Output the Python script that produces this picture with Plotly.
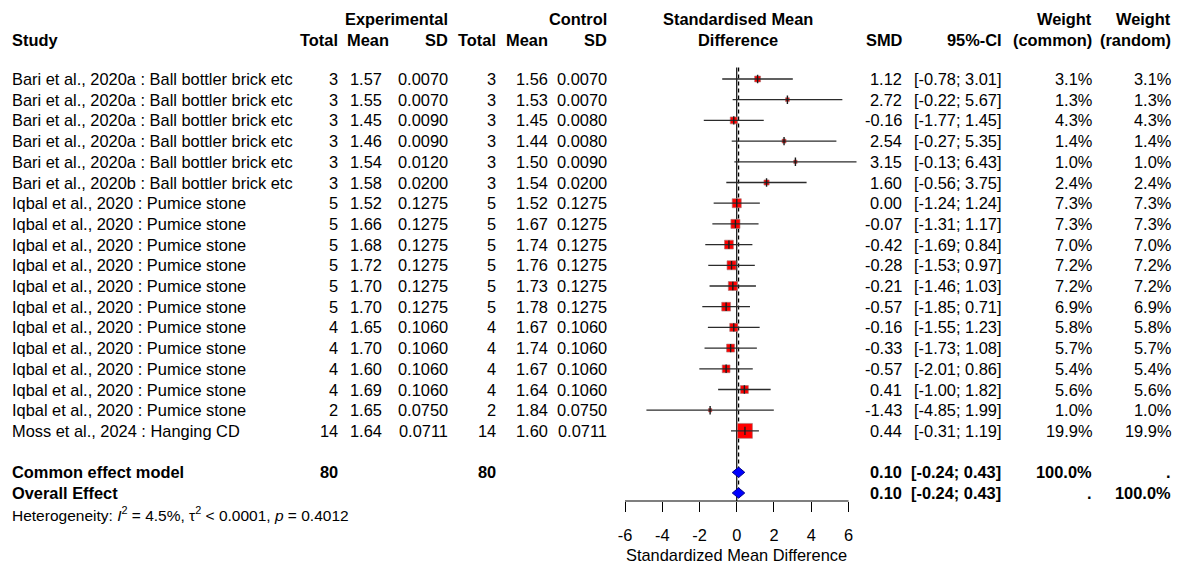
import plotly.graph_objects as go

# ---- data -------------------------------------------------------------
studies = (["Bari et al., 2020a : Ball bottler brick etc"] * 5
           + ["Bari et al., 2020b : Ball bottler brick etc"]
           + ["Iqbal et al., 2020 : Pumice stone"] * 11
           + ["Moss et al., 2024 : Hanging CD"])
exp_n = [3, 3, 3, 3, 3, 3, 5, 5, 5, 5, 5, 5, 4, 4, 4, 4, 2, 14]
exp_mean = [1.57, 1.55, 1.45, 1.46, 1.54, 1.58, 1.52, 1.66, 1.68, 1.72, 1.70, 1.70,
            1.65, 1.70, 1.60, 1.69, 1.65, 1.64]
exp_sd = [0.0070, 0.0070, 0.0090, 0.0090, 0.0120, 0.0200, 0.1275, 0.1275, 0.1275,
          0.1275, 0.1275, 0.1275, 0.1060, 0.1060, 0.1060, 0.1060, 0.0750, 0.0711]
ctrl_n = [3, 3, 3, 3, 3, 3, 5, 5, 5, 5, 5, 5, 4, 4, 4, 4, 2, 14]
ctrl_mean = [1.56, 1.53, 1.45, 1.44, 1.50, 1.54, 1.52, 1.67, 1.74, 1.76, 1.73, 1.78,
             1.67, 1.74, 1.67, 1.64, 1.84, 1.60]
ctrl_sd = [0.0070, 0.0070, 0.0080, 0.0080, 0.0090, 0.0200, 0.1275, 0.1275, 0.1275,
           0.1275, 0.1275, 0.1275, 0.1060, 0.1060, 0.1060, 0.1060, 0.0750, 0.0711]
smd = [1.12, 2.72, -0.16, 2.54, 3.15, 1.60, 0.00, -0.07, -0.42, -0.28, -0.21, -0.57,
       -0.16, -0.33, -0.57, 0.41, -1.43, 0.44]
ci_lo = [-0.78, -0.22, -1.77, -0.27, -0.13, -0.56, -1.24, -1.31, -1.69, -1.53, -1.46,
         -1.85, -1.55, -1.73, -2.01, -1.00, -4.85, -0.31]
ci_hi = [3.01, 5.67, 1.45, 5.35, 6.43, 3.75, 1.24, 1.17, 0.84, 0.97, 1.03, 0.71, 1.23,
         1.08, 0.86, 1.82, 1.99, 1.19]
w_common = [3.1, 1.3, 4.3, 1.4, 1.0, 2.4, 7.3, 7.3, 7.0, 7.2, 7.2, 6.9, 5.8, 5.7, 5.4,
            5.6, 1.0, 19.9]
w_random = [3.1, 1.3, 4.3, 1.4, 1.0, 2.4, 7.3, 7.3, 7.0, 7.2, 7.2, 6.9, 5.8, 5.7, 5.4,
            5.6, 1.0, 19.9]

total_exp = 80
total_ctrl = 80
w_common_total = 100.0
w_random_total = 100.0
pooled_est = 0.10
pooled_lo = -0.24
pooled_hi = 0.43
heterogeneity = "Heterogeneity: <i>I</i><sup>2</sup> = 4.5%, \u03c4<sup>2</sup> &lt; 0.0001, <i>p</i> = 0.4012"

x_ticks = [-6, -4, -2, 0, 2, 4, 6]

# ---- layout geometry --------------------------------------------------
W, H = 1181, 567
FONT = "Liberation Sans, Arial, sans-serif"
FS = 16.4
ROW0_PX, ROW_H = 79.0, 20.7          # pixel centre of first study row, row pitch
y_top = 1 - ROW0_PX / ROW_H            # row value at top edge
y_bot = 1 + (H - ROW0_PX) / ROW_H      # row value at bottom edge

X_LEFT_PX, X_RIGHT_PX = 625.0, 848.5   # pixels of -6 and 6
ppu = (X_RIGHT_PX - X_LEFT_PX) / 12.0
x0_px = X_LEFT_PX + 6 * ppu
xr = [-7.0, 7.0]
dom = [(x0_px + xr[0] * ppu) / W, (x0_px + xr[1] * ppu) / W]

AXIS_PX = 501.0
axis_row = 1 + (AXIS_PX - ROW0_PX) / ROW_H

rows = list(range(1, len(studies) + 1))
row_common = len(studies) + 2
row_overall = len(studies) + 3
row_het = len(studies) + 4
row_head1 = 1 + (19 - ROW0_PX) / ROW_H
row_head2 = 1 + (40 - ROW0_PX) / ROW_H

fig = go.Figure()

# reference line (no effect) and pooled estimate line
fig.add_trace(go.Scatter(x=[0, 0], y=[0.45, axis_row], mode="lines",
                         line=dict(color="black", width=1.2), hoverinfo="skip"))
fig.add_trace(go.Scatter(x=[pooled_est, pooled_est], y=[0.45, axis_row - 0.2], mode="lines",
                         line=dict(color="black", width=1.2, dash="4px,3px"), hoverinfo="skip"))

# weighted squares
sizes = [3.35 * (w ** 0.5) for w in w_common]
fig.add_trace(go.Scatter(x=smd, y=rows, mode="markers",
                         marker=dict(symbol="square", size=sizes, color="#ff0000", opacity=1,
                                     line=dict(color="rgba(170,120,120,0.8)", width=0.8)),
                         hoverinfo="skip"))

# confidence intervals
cx, cy = [], []
for lo, hi, r in zip(ci_lo, ci_hi, rows):
    cx += [lo, hi, None]
    cy += [r, r, None]
fig.add_trace(go.Scatter(x=cx, y=cy, mode="lines", line=dict(color="#2b2b2b", width=1.3),
                         hoverinfo="skip"))

# point-estimate ticks
fig.add_trace(go.Scatter(x=smd, y=rows, mode="markers",
                         marker=dict(symbol="line-ns-open", size=6, color="#1a1a1a", opacity=1,
                                     line=dict(color="#1a1a1a", width=1.4)),
                         hoverinfo="skip"))

# pooled diamonds
for r in (row_common, row_overall):
    fig.add_trace(go.Scatter(
        x=[pooled_lo, pooled_est, pooled_hi, pooled_est, pooled_lo],
        y=[r, r - 0.25, r, r + 0.25, r],
        mode="lines", fill="toself", fillcolor="#0000ff",
        line=dict(color="#00008b", width=1), hoverinfo="skip"))

# x-axis baseline
fig.add_trace(go.Scatter(x=[x_ticks[0], x_ticks[-1]], y=[axis_row, axis_row], mode="lines",
                         line=dict(color="black", width=1.2), hoverinfo="skip"))

# ---- table text -------------------------------------------------------
ann = []


def txt(px, row, s, anchor="right", bold=False, size=FS):
    ann.append(dict(x=px / W, xref="paper", y=row, yref="y", text=f"<b>{s}</b>" if bold else s,
                    showarrow=False, xanchor=anchor, yanchor="middle",
                    font=dict(family=FONT, size=size, color="black")))


# headers
txt(450, row_head1, "Experimental", bold=True)
txt(609, row_head1, "Control", bold=True)
txt(10, row_head2, "Study", anchor="left", bold=True)
txt(340, row_head2, "Total", bold=True)
txt(391, row_head2, "Mean", bold=True)
txt(450, row_head2, "SD", bold=True)
txt(498, row_head2, "Total", bold=True)
txt(550, row_head2, "Mean", bold=True)
txt(609, row_head2, "SD", bold=True)
txt(738, row_head1, "Standardised Mean", anchor="center", bold=True)
txt(738, row_head2, "Difference", anchor="center", bold=True)
txt(905, row_head2, "SMD", bold=True)
txt(1004, row_head2, "95%-CI", bold=True)
txt(1094, row_head1, "Weight", bold=True)
txt(1094, row_head2, "(common)", bold=True)
txt(1173, row_head1, "Weight", bold=True)
txt(1173, row_head2, "(random)", bold=True)

# study rows
for i, r in enumerate(rows):
    txt(10, r, studies[i], anchor="left")
    txt(340, r, f"{exp_n[i]}")
    txt(384, r, f"{exp_mean[i]:.2f}")
    txt(450, r, f"{exp_sd[i]:.4f}")
    txt(498, r, f"{ctrl_n[i]}")
    txt(550, r, f"{ctrl_mean[i]:.2f}")
    txt(609, r, f"{ctrl_sd[i]:.4f}")
    txt(904, r, f"{smd[i]:.2f}")
    txt(1003, r, f"[{ci_lo[i]:.2f}; {ci_hi[i]:.2f}]")
    txt(1094, r, f"{w_common[i]:.1f}%")
    txt(1173, r, f"{w_random[i]:.1f}%")

# pooled rows
ci_txt = f"[{pooled_lo:.2f}; {pooled_hi:.2f}]"
txt(10, row_common, "Common effect model", anchor="left", bold=True)
txt(340, row_common, f"{total_exp}", bold=True)
txt(498, row_common, f"{total_ctrl}", bold=True)
txt(904, row_common, f"{pooled_est:.2f}", bold=True)
txt(1003, row_common, ci_txt, bold=True)
txt(1094, row_common, f"{w_common_total:.1f}%", bold=True)
txt(1173, row_common, ".", bold=True)

txt(10, row_overall, "Overall Effect", anchor="left", bold=True)
txt(904, row_overall, f"{pooled_est:.2f}", bold=True)
txt(1003, row_overall, ci_txt, bold=True)
txt(1094, row_overall, ".", bold=True)
txt(1173, row_overall, f"{w_random_total:.1f}%", bold=True)

txt(10, row_het, heterogeneity, anchor="left", size=15.5)

# axis title
ann.append(dict(x=0, xref="x", y=1 - 555 / H, yref="paper", text="Standardized Mean Difference",
                showarrow=False, xanchor="center", yanchor="middle",
                font=dict(family=FONT, size=FS, color="black")))

fig.update_layout(
    width=W, height=H,
    margin=dict(l=0, r=0, t=0, b=0),
    paper_bgcolor="white", plot_bgcolor="white",
    showlegend=False,
    font=dict(family=FONT, size=FS, color="black"),
    annotations=ann,
    xaxis=dict(domain=dom, range=xr, anchor="free", position=1 - AXIS_PX / H,
               showline=False, showgrid=False, zeroline=False,
               tickmode="array", tickvals=x_ticks, ticktext=[str(v) for v in x_ticks],
               ticks="outside", ticklen=10, tickwidth=1.2, tickcolor="black",
               ticklabelstandoff=9,
               tickfont=dict(family=FONT, size=FS, color="black")),
    yaxis=dict(domain=[0, 1], range=[y_bot, y_top], visible=False,
               showgrid=False, zeroline=False),
)

fig.write_html("out.html")
